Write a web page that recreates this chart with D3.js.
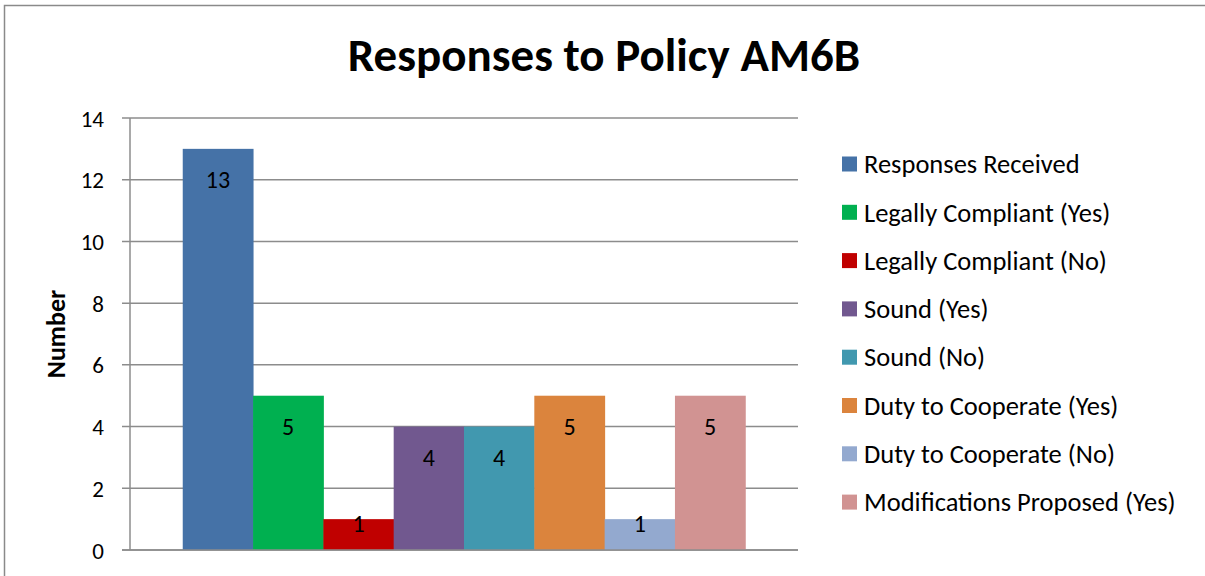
<!DOCTYPE html>
<html><head><meta charset="utf-8">
<script src="https://cdn.jsdelivr.net/npm/d3@7"></script>
<style>
html,body{margin:0;padding:0;background:#fff;}
svg text{font-family:Carlito,Calibri,"Liberation Sans",Arial,sans-serif;fill:#000;}
</style></head>
<body>
<svg id="chart" width="1205" height="576"></svg>
<script>
const title = "Responses to Policy AM6B";
const yAxisTitle = "Number";
const seriesNames = ["Responses Received","Legally Compliant (Yes)","Legally Compliant (No)","Sound (Yes)","Sound (No)","Duty to Cooperate (Yes)","Duty to Cooperate (No)","Modifications Proposed (Yes)"];
const seriesValues = [13,5,1,4,4,5,1,5];
const seriesColors = ["#4572A7","#00B050","#C00000","#71588F","#4198AF","#DB843D","#93A9CF","#D19392"];
const yTicks = [0,2,4,6,8,10,12,14];

const svg = d3.select("#chart");
const W = 1205, H = 576;
const plot = {left:130, right:798, top:118, bottom:550};

// outer chart border
svg.append("rect").attr("x",4.5).attr("y",5.5).attr("width",W+10).attr("height",H+10)
  .attr("fill","#fff").attr("stroke","#8a8a8a").attr("stroke-width",1.5);

const y = d3.scaleLinear().domain([0,14]).range([plot.bottom, plot.top]);
// Excel gap width 150%: bars occupy n/(n+1.5) of the single category
const nB = seriesNames.length;
const catW = plot.right - plot.left;
const barW = catW / (nB + 1.5);
const x = d3.scaleBand().domain(seriesNames)
  .range([plot.left + barW*0.75, plot.right - barW*0.75]).padding(0);

// gridlines
svg.append("g").selectAll("line").data(yTicks).join("line")
  .attr("x1", plot.left-8).attr("x2", plot.right)
  .attr("y1", d=>y(d)).attr("y2", d=>y(d))
  .attr("stroke","#8c8c8c").attr("stroke-width",1.5);

const yAxis = d3.axisLeft(y).tickValues(yTicks).tickSize(0).tickPadding(0).tickFormat(d3.format("d"));
const ag = svg.append("g").attr("transform",`translate(${plot.left-26},0)`).call(yAxis);
ag.select(".domain").remove();
ag.selectAll("text").attr("font-size",23).attr("dy","0.35em")
  .style("font-family",'Carlito,Calibri,"Liberation Sans",Arial,sans-serif').attr("fill","#000");

// bars
svg.append("g").selectAll("rect").data(seriesValues).join("rect")
  .attr("x",(d,i)=>x(seriesNames[i])).attr("width",x.bandwidth()+0.5)
  .attr("y",d=>y(d)).attr("height",d=>y(0)-y(d))
  .attr("fill",(d,i)=>seriesColors[i]);

// axis lines
svg.append("line").attr("x1",plot.left).attr("x2",plot.left).attr("y1",plot.top).attr("y2",plot.bottom)
  .attr("stroke","#8c8c8c").attr("stroke-width",1.5);
svg.append("line").attr("x1",plot.left-8).attr("x2",plot.right).attr("y1",plot.bottom).attr("y2",plot.bottom)
  .attr("stroke","#8c8c8c").attr("stroke-width",1.5);

// data labels
svg.append("g").selectAll("text").data(seriesValues).join("text")
  .attr("x",(d,i)=>x(seriesNames[i])+x.bandwidth()/2)
  .attr("y",d=>Math.min(y(d)+31, y(0)-26))
  .attr("dy","0.35em").attr("text-anchor","middle").attr("font-size",24)
  .text(d=>d);

// title
svg.append("text").attr("x",604).attr("y",71).attr("text-anchor","middle")
  .attr("font-size",47).attr("font-weight","bold").text(title);

// y axis title
svg.append("text").attr("transform",`translate(65,${(plot.top+plot.bottom)/2}) rotate(-90)`)
  .attr("text-anchor","middle").attr("font-size",26).attr("font-weight","bold").text(yAxisTitle);

// legend
const lg = svg.append("g");
const items = lg.selectAll("g").data(seriesNames).join("g")
  .attr("transform",(d,i)=>`translate(842,${164 + i*48.3})`);
items.append("rect").attr("x",0).attr("y",-7.5).attr("width",15).attr("height",15)
  .attr("fill",(d,i)=>seriesColors[i]);
items.append("text").attr("x",22).attr("y",0).attr("dy","0.35em").attr("font-size",26.5).text(d=>d);
</script>
</body></html>
